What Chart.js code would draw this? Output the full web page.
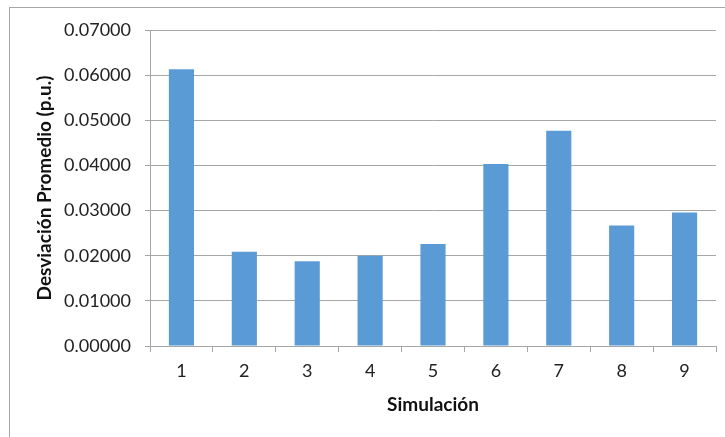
<!DOCTYPE html>
<html>
<head>
<meta charset="utf-8">
<script src="https://cdn.jsdelivr.net/npm/chart.js@4"></script>
<style>
  html, body { margin: 0; padding: 0; background: #fff; }
  #wrap { width: 725px; height: 437px; }
</style>
</head>
<body>
<div id="wrap"><canvas id="barChart" width="725" height="437"></canvas></div>
<script>
const simulaciones = ["1", "2", "3", "4", "5", "6", "7", "8", "9"];
const desviacion = [0.0613, 0.0209, 0.0188, 0.0200, 0.0226, 0.0403, 0.0477, 0.0267, 0.0296];
const yTicks = [0, 0.01, 0.02, 0.03, 0.04, 0.05, 0.06, 0.07];

// marco gris alrededor del gráfico
const marco = {
    id: "marco",
    beforeDraw(chart) {
        const ctx = chart.ctx;
        ctx.save();
        ctx.strokeStyle = "#a6a6a6";
        ctx.lineWidth = 1;
        ctx.strokeRect(9.5, 7.5, 760, 480);
        ctx.restore();
    },
};

const ctx = document.querySelector("#barChart").getContext("2d");

new Chart(ctx, {
    type: "bar",
    data: {
        labels: simulaciones,
        datasets: [
            {
                data: desviacion,
                backgroundColor: "#5b9bd5",
                borderWidth: 0,
                categoryPercentage: 1,
                barPercentage: 0.4,
            },
        ],
    },
    options: {
        responsive: false,
        animation: false,
        layout: { padding: { top: 30, right: 9, bottom: 0, left: 0 } },
        plugins: { legend: { display: false }, tooltip: { enabled: false } },
        scales: {
            x: {
                grid: {
                    display: true,
                    drawOnChartArea: false,
                    drawTicks: true,
                    tickLength: 6,
                    offset: true,
                    color: "#a6a6a6",
                },
                border: { color: "#a6a6a6" },
                ticks: { color: "#222", font: { family: "Lato", size: 18 }, padding: 8 },
                title: {
                    display: true,
                    text: "Simulación",
                    color: "#111",
                    font: { family: "Lato", size: 19, weight: "bold" },
                    padding: { top: 0, bottom: 21 },
                },
                afterFit(scale) { scale.height = 91; },
            },
            y: {
                min: 0,
                max: 0.07,
                afterBuildTicks(scale) { scale.ticks = yTicks.map(v => ({ value: v })); },
                grid: { color: "#a6a6a6", tickLength: 5 },
                border: { color: "#a6a6a6" },
                ticks: {
                    color: "#222",
                    font: { family: "Lato", size: 18 },
                    padding: 14,
                    callback: v => v.toFixed(5),
                },
                title: {
                    display: true,
                    text: "Desviación Promedio (p.u.)",
                    color: "#111",
                    font: { family: "Lato", size: 19, weight: "bold" },
                    padding: { top: 33, bottom: 0 },
                },
                afterFit(scale) { scale.width = 150; },
            },
        },
    },
    plugins: [marco],
});
</script>
</body>
</html>
